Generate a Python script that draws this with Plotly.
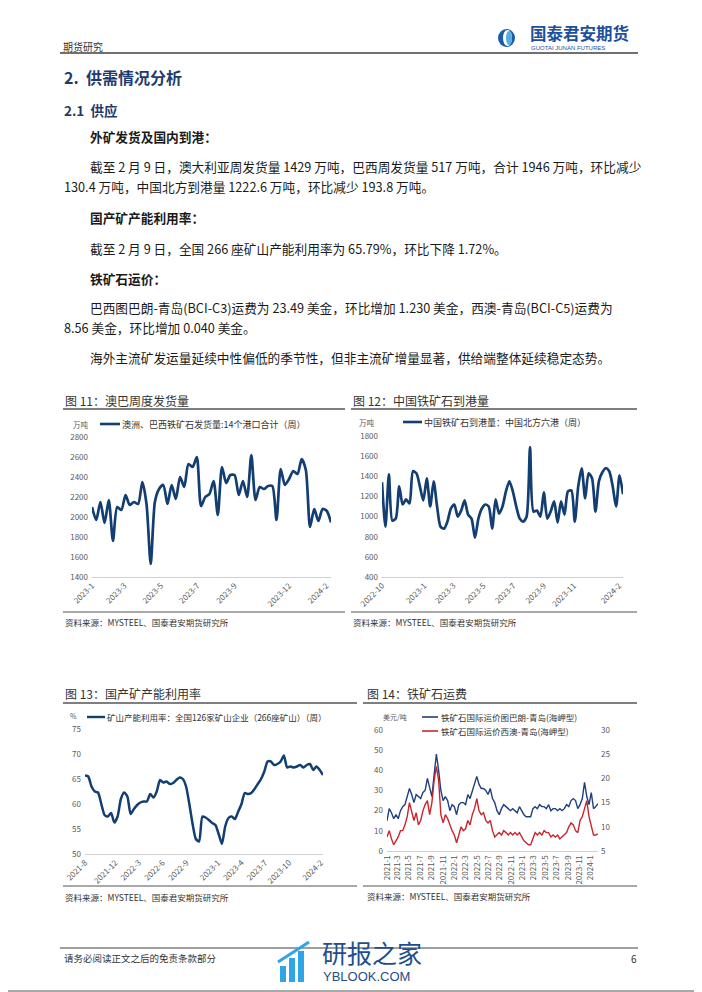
import plotly.graph_objects as go
import pandas as pd

W, H = 702, 992
# the page body adds an 8 px margin around the figure; page pixel p -> figure pixel p - 8
OFF = 8
def X(p): return (p - OFF) / W
def Y(p): return 1 - (p - OFF) / H

FONT = "Noto Sans CJK SC"

# ---------------- data ----------------
# Fig 11: weekly shipments Australia+Brazil (万吨), 2023-01-06 .. 2024-02-09
ab_ship = [2100, 1970, 2150, 1940, 2170, 1760, 2100, 2070, 2220, 2120,
           2150, 2130, 2350, 2130, 1530, 2150, 2280, 2320, 2130, 2320,
           2180, 2400, 2300, 2530, 2500, 2600, 2110, 2200, 2230, 2360,
           2020, 2500, 2340, 2420, 2420, 2220, 2360, 2200, 2620, 2170,
           2300, 2280, 2310, 2310, 1970, 2480, 2320, 2380, 2460, 2430,
           2580, 2470, 1900, 2080, 1960, 2080, 2060, 1946]
ab_ticks = ["2023-01-06", "2023-03-01", "2023-05-01", "2023-07-01", "2023-09-01", "2023-12-01", "2024-02-01"]
ab_ticktext = ["2023-1", "2023-3", "2023-5", "2023-7", "2023-9", "2023-12", "2024-2"]

# Fig 12: weekly arrivals at 6 northern ports (万吨), ending 2024-02-09
arrivals = [1340, 900, 1420, 960, 980, 1300, 1120, 1170, 1130, 1450,
            1430, 1300, 1160, 1380, 1100, 1350, 1100, 900, 880, 950,
            1080, 1120, 1000, 1060, 1160, 1020, 980, 790, 980, 1080,
            1120, 1100, 880, 1170, 1030, 1100, 1250, 1350, 1250, 1100,
            980, 950, 1000, 1690, 1050, 1060, 1000, 1240, 980, 1050,
            1150, 940, 1150, 1020, 1250, 1260, 950, 1300, 1480, 1180,
            1430, 1380, 1050, 1350, 1440, 1480, 1450, 1300, 1100, 1410, 1222.6]
arr_ticks = ["2022-10-07", "2023-01-01", "2023-03-01", "2023-05-01", "2023-07-01", "2023-09-01", "2023-11-01", "2024-02-01"]
arr_ticktext = ["2022-10", "2023-1", "2023-3", "2023-5", "2023-7", "2023-9", "2023-11", "2024-2"]

# Fig 13: domestic mine capacity utilisation (%), 2021-08 .. 2024-02-09
util = [65.7, 65.5, 63.5, 62.5, 62.3, 60.0, 57.8, 57.5, 58.2, 56.3,
        57.5, 61.0, 62.3, 61.5, 58.0, 59.0, 59.8, 60.3, 60.5, 60.5,
        62.0, 61.3, 62.5, 64.8, 64.3, 64.5, 64.0, 64.2, 64.8, 65.3,
        65.0, 63.5, 60.0, 56.0, 53.0, 52.5, 57.5, 57.3, 56.8, 56.2,
        55.8, 54.0, 52.0, 55.5, 57.2, 57.5, 57.0, 58.5, 60.0, 62.2,
        62.0, 62.2, 63.0, 64.0, 65.0, 66.5, 68.5, 68.5, 67.8, 68.0,
        68.5, 69.7, 67.3, 67.5, 67.3, 67.5, 67.8, 67.3, 67.8, 68.0,
        66.8, 67.5, 66.8, 65.79]
util_ticks = ["2021-08-06", "2021-12-01", "2022-03-01", "2022-06-01", "2022-09-01", "2023-01-01",
              "2023-04-01", "2023-07-01", "2023-10-01", "2024-02-01"]
util_ticktext = ["2021-8", "2021-12", "2022-3", "2022-6", "2022-9", "2023-1", "2023-4", "2023-7", "2023-10", "2024-2"]

# Fig 14: freight (美元/吨), 2021-01 .. 2024-02-09
bci_c3 = [15, 21, 19, 16, 18, 16, 20, 22, 23, 27,
          31, 28, 24, 28, 27, 26, 29, 30, 36, 32,
          27, 38, 48, 40, 30, 25, 27, 25, 20, 23,
          22, 18, 23, 24, 24, 23, 28, 26, 30, 33,
          37, 33, 31, 31, 30, 28, 31, 26, 24, 20,
          18, 21, 23, 22, 21, 20, 21, 20, 19, 22,
          20, 18, 17, 17, 17, 21, 22, 21, 23, 22,
          22, 21, 23, 20, 21, 21, 20, 21, 20, 21,
          23, 22, 25, 26, 25, 21, 23, 26, 34, 27,
          23, 29, 21, 22, 23.49]
bci_c5 = [7.9, 9.2, 7.5, 6.3, 7.1, 7.9, 9.2, 9.2, 10.4, 12.1,
          15.0, 13.3, 11.3, 12.9, 10.4, 11.3, 13.3, 14.6, 15.4, 12.5,
          15.0, 19.6, 22.5, 19.6, 12.5, 10.8, 12.5, 11.7, 10.4, 9.2,
          8.3, 6.7, 8.3, 10.0, 9.2, 9.6, 11.3, 10.4, 12.5, 13.8,
          15.8, 13.3, 12.5, 12.9, 11.3, 10.8, 11.3, 9.2, 7.9, 8.3,
          8.8, 8.3, 9.2, 8.8, 8.3, 8.8, 8.3, 8.8, 8.3, 8.8,
          7.9, 7.1, 6.7, 6.3, 6.3, 7.5, 8.8, 8.3, 8.8, 8.3,
          9.2, 8.8, 8.8, 7.9, 8.3, 7.9, 8.3, 7.5, 7.9, 8.3,
          8.8, 10.0, 10.8, 10.4, 9.2, 8.8, 11.3, 12.1, 13.8, 15.4,
          12.1, 10.4, 8.3, 8.3, 8.56]
fr_ticks = ["2021-01-04"] + [f"{y}-{m:02d}-01" for y in (2021, 2022, 2023) for m in (1, 3, 5, 7, 9, 11)][1:] + ["2024-01-01"]
fr_ticktext = [f"{y}-{m}" for y in (2021, 2022, 2023) for m in (1, 3, 5, 7, 9, 11)] + ["2024-1"]

d11 = pd.date_range("2023-01-06", periods=len(ab_ship), freq="7D")
d12 = pd.date_range(end="2024-02-09", periods=len(arrivals), freq="7D")
d13 = pd.date_range("2021-08-06", "2024-02-09", periods=len(util))
d14a = pd.date_range("2021-01-04", "2024-02-09", periods=len(bci_c3))
d14b = pd.date_range("2021-01-04", "2024-02-09", periods=len(bci_c5))

NAVY = "#123E72"
BLUE14 = "#1F3F7E"
RED14 = "#C8262D"
TICKC = "#595959"

fig = go.Figure()
fig.add_trace(go.Scatter(x=d11, y=ab_ship, mode="lines", xaxis="x", yaxis="y", showlegend=False,
                         line=dict(color=NAVY, width=2.7, shape="spline", smoothing=0.7)))
fig.add_trace(go.Scatter(x=d12, y=arrivals, mode="lines", xaxis="x2", yaxis="y2", showlegend=False,
                         line=dict(color=NAVY, width=2.7, shape="spline", smoothing=0.7)))
fig.add_trace(go.Scatter(x=d13, y=util, mode="lines", xaxis="x3", yaxis="y3", showlegend=False,
                         line=dict(color=NAVY, width=2.5, shape="spline", smoothing=0.6)))
fig.add_trace(go.Scatter(x=d14a, y=bci_c3, mode="lines", xaxis="x4", yaxis="y4", showlegend=False,
                         line=dict(color=BLUE14, width=1.4)))
fig.add_trace(go.Scatter(x=d14b, y=bci_c5, mode="lines", xaxis="x4", yaxis="y5", showlegend=False,
                         line=dict(color=RED14, width=1.4)))

def xax(dom, anchor, rng, tv, tt, angle=-45):
    return dict(domain=[X(dom[0]), X(dom[1])], anchor=anchor, type="date", range=rng,
                tickvals=tv, ticktext=tt, tickangle=angle, showgrid=False, zeroline=False,
                showline=True, linecolor="#D0D0D0", linewidth=1, ticks="", automargin=False,
                tickfont=dict(family=FONT, size=8, color=TICKC))

def yax(dom, anchor, rng, dt, **kw):
    d = dict(domain=[Y(dom[0]), Y(dom[1])], anchor=anchor, range=rng, dtick=dt,
             showgrid=False, zeroline=False, showline=False, ticks="", automargin=False,
             tickfont=dict(family=FONT, size=8, color=TICKC), ticklabelstandoff=3)
    d.update(kw)
    return d

fig.update_layout(
    template="none",
    width=W, height=H, margin=dict(l=0, r=0, t=0, b=0, pad=0, autoexpand=False),
    paper_bgcolor="white", plot_bgcolor="rgba(0,0,0,0)",
    font=dict(family=FONT),
    xaxis=xax((92, 331), "y", [d11[0], d11[-1]], ab_ticks, ab_ticktext),
    yaxis=yax((577, 437), "x", [1400, 2800], 200),
    xaxis2=xax((382, 623), "y2", [d12[0], d12[-1]], arr_ticks, arr_ticktext),
    yaxis2=yax((577, 436), "x2", [400, 1800], 200),
    xaxis3=xax((85, 323), "y3", [d13[0], d13[-1]], util_ticks, util_ticktext),
    yaxis3=yax((854, 729), "x3", [50, 75], 5),
    xaxis4=xax((387, 598), "y4", [d14a[0], d14a[-1]], fr_ticks, fr_ticktext, angle=-90),
    yaxis4=yax((851, 730), "x4", [0, 60], 10),
    yaxis5=yax((851, 730), "x4", [5, 30], 5, overlaying="y4", side="right", ticklabelstandoff=2),
)

shapes = []
ann = []

def line(x0, y0, x1, y1, color="#404040", width=1.2):
    shapes.append(dict(type="line", xref="paper", yref="paper", x0=X(x0), y0=Y(y0), x1=X(x1), y1=Y(y1),
                       line=dict(color=color, width=width)))

def text(x, y, s, size=12, color="#222222", anchor="left", bold=False, family=FONT):
    ann.append(dict(xref="paper", yref="paper", x=X(x), y=Y(y), text=(f"<b>{s}</b>" if bold else s),
                    showarrow=False, xanchor=anchor, yanchor="middle", borderpad=0,
                    font=dict(family=family, size=size, color=color)))

# page frame (right and bottom edges of the page)
line(701, 0, 701, 991, color="#8C8C8C", width=1.5)
line(0, 991, 701, 991, color="#8C8C8C", width=1.5)

# header
text(62, 46, "期货研究", size=10, color="#333333")
line(60, 53, 638, 53, color="#404040", width=1.5)
shapes.append(dict(type="circle", xref="paper", yref="paper", x0=X(498), y0=Y(47), x1=X(515), y1=Y(29),
                   fillcolor="#1D5BA8", line=dict(width=0)))
shapes.append(dict(type="circle", xref="paper", yref="paper", x0=X(503), y0=Y(46), x1=X(512), y1=Y(30),
                   fillcolor="white", line=dict(width=0)))
shapes.append(dict(type="circle", xref="paper", yref="paper", x0=X(506), y0=Y(45), x1=X(512), y1=Y(31),
                   fillcolor="#58ACE0", line=dict(width=0)))
text(529, 33, "国泰君安期货", size=16.5, color="#1D4F9E", bold=True)
text(530, 48, "GUOTAI JUNAN FUTURES", size=6, color="#1D4F9E", family="Liberation Sans")

# section headings
HEAD = "#1F3B6E"
text(63, 77, "2.  供需情况分析", size=16, color=HEAD, bold=True)
text(63, 110, "2.1  供应", size=13.5, color=HEAD, bold=True)

body = [
    (89, 136, "外矿发货及国内到港：", True),
    (89, 166, "截至 2 月 9 日，澳大利亚周发货量 1429 万吨，巴西周发货量 517 万吨，合计 1946 万吨，环比减少", False),
    (63, 187, "130.4 万吨，中国北方到港量 1222.6 万吨，环比减少 193.8 万吨。", False),
    (89, 217, "国产矿产能利用率：", True),
    (89, 248, "截至 2 月 9 日，全国 266 座矿山产能利用率为 65.79%，环比下降 1.72%。", False),
    (89, 278, "铁矿石运价：", True),
    (89, 307, "巴西图巴朗-青岛(BCI-C3)运费为 23.49 美金，环比增加 1.230 美金，西澳-青岛(BCI-C5)运费为", False),
    (63, 328, "8.56 美金，环比增加 0.040 美金。", False),
    (89, 358, "海外主流矿发运量延续中性偏低的季节性，但非主流矿增量显著，供给端整体延续稳定态势。", False),
]
for x, y, s, b in body:
    text(x, y, s, size=12.7, color="#1A1A1A", bold=b)

TITLE_C = "#333333"
# chart 11 frame
text(64, 400, "图 11：澳巴周度发货量", size=12, color=TITLE_C)
line(63, 409, 345, 409, color="#555555", width=1.5)
text(72, 424, "万吨", size=7.5, color=TICKC)
line(100, 424, 120, 424, color=NAVY, width=2.6)
text(121, 424, "澳洲、巴西铁矿石发货量:14个港口合计（周）", size=9, color="#333333")
line(63, 612, 345, 612, color="#555555", width=1.2)
text(64, 622, "资料来源：MYSTEEL、国泰君安期货研究所", size=8.5, color="#333333")

# chart 12 frame
text(352, 400, "图 12：中国铁矿石到港量", size=12, color=TITLE_C)
line(351, 409, 637, 409, color="#555555", width=1.5)
text(358, 422, "万吨", size=7.5, color=TICKC)
line(403, 422, 422, 422, color=NAVY, width=2.6)
text(423, 422, "中国铁矿石到港量：中国北方六港（周）", size=9, color="#333333")
line(351, 612, 637, 612, color="#555555", width=1.2)
text(352, 622, "资料来源：MYSTEEL、国泰君安期货研究所", size=8.5, color="#333333")

# chart 13 frame
text(64, 693, "图 13：国产矿产能利用率", size=12, color=TITLE_C)
line(63, 703, 357, 703, color="#555555", width=1.5)
text(69, 716, "%", size=7, color=TICKC)
line(87, 717, 105, 717, color=NAVY, width=2.4)
text(106, 717, "矿山产能利用率：全国126家矿山企业（266座矿山）（周）", size=8.5, color="#333333")
line(63, 886, 357, 886, color="#555555", width=1.2)
text(64, 897, "资料来源：MYSTEEL、国泰君安期货研究所", size=8.5, color="#333333")

# chart 14 frame
text(366, 693, "图 14：铁矿石运费", size=12, color=TITLE_C)
line(363, 703, 637, 703, color="#555555", width=1.5)
text(382, 717, "美元/吨", size=7, color=TICKC)
line(422, 717, 438, 717, color=BLUE14, width=1.6)
text(440, 717, "铁矿石国际运价图巴朗-青岛(海岬型)", size=8.5, color="#333333")
line(422, 731, 438, 731, color=RED14, width=1.6)
text(440, 731, "铁矿石国际运价西澳-青岛(海岬型)", size=8.5, color="#333333")
line(363, 886, 637, 886, color="#555555", width=1.2)
text(366, 896, "资料来源：MYSTEEL、国泰君安期货研究所", size=8.5, color="#333333")

# footer
line(60, 948, 638, 948, color="#404040", width=1.2)
text(63, 958, "请务必阅读正文之后的免责条款部分", size=9.5, color="#333333")
text(638, 958, "6", size=10, color="#333333", anchor="right")
for x0, y0 in ((280, 966), (289, 958), (298, 951)):
    shapes.append(dict(type="rect", xref="paper", yref="paper", x0=X(x0), y0=Y(982), x1=X(x0 + 6), y1=Y(y0),
                       fillcolor="#2FA4E7", line=dict(width=0)))
line(278, 962, 309, 942, color="#2FA4E7", width=3)
text(321, 952, "研报之家", size=25, color="#1F4E8C")
text(322, 976, "YBLOOK.COM", size=13, color="#1F4E8C", family="Liberation Sans")

fig.update_layout(shapes=shapes, annotations=ann)
fig.write_html("out.html")
